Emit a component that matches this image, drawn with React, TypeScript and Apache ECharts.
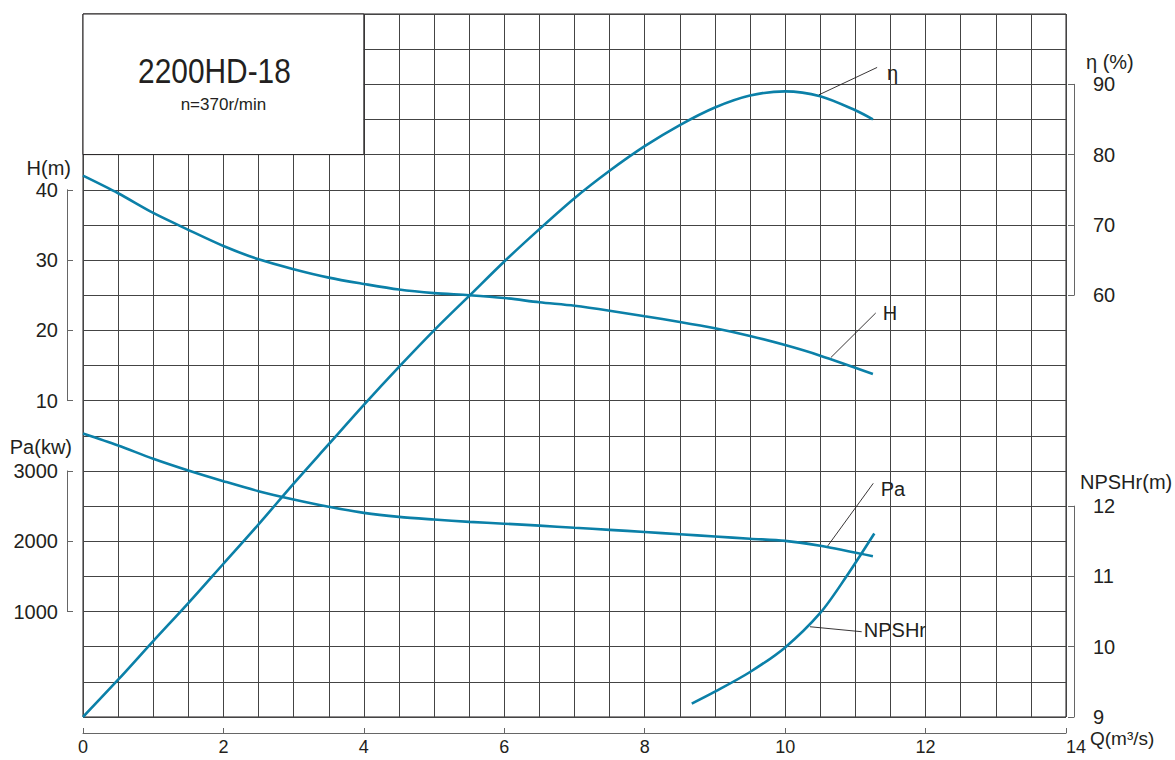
import React, { useEffect, useRef } from "react";
import * as echarts from "echarts";

// ---- data ----
const Q_H = [0, 0.5, 1, 1.5, 2, 2.5, 3, 3.5, 4, 4.5, 5, 5.5, 6, 6.5, 7, 7.5, 8, 8.5, 9, 9.5, 10, 10.5, 11.25];
const H_VALUES = [42.0, 39.5, 36.7, 34.3, 32.0, 30.1, 28.7, 27.5, 26.6, 25.8, 25.3, 25.0, 24.6, 24.0, 23.5, 22.8, 22.0, 21.2, 20.3, 19.2, 17.9, 16.4, 13.8];

const Q_ETA = [0, 0.5, 1, 1.5, 2, 2.5, 3, 3.5, 4, 4.5, 5, 5.5, 6, 6.5, 7, 7.5, 8, 8.5, 9, 9.5, 10, 10.5, 11, 11.25];
const ETA_VALUES = [0, 5.3, 10.8, 16.2, 21.8, 27.4, 33.2, 38.8, 44.4, 49.8, 55.0, 59.9, 64.8, 69.4, 73.8, 77.7, 81.2, 84.2, 86.7, 88.4, 89.0, 88.3, 86.3, 85.0];

const Q_PA = [0, 0.5, 1, 1.5, 2, 2.5, 3, 3.5, 4, 4.5, 5, 5.5, 6, 6.5, 7, 7.5, 8, 8.5, 9, 9.5, 10, 10.5, 11.25];
const PA_VALUES = [3534, 3363, 3174, 3007, 2855, 2712, 2594, 2490, 2404, 2347, 2309, 2276, 2250, 2222, 2192, 2162, 2132, 2100, 2068, 2035, 2005, 1935, 1786];

const Q_NPSH = [8.67, 9.0, 9.5, 10.0, 10.5, 10.86, 11.27];
const NPSH_VALUES = [9.19, 9.36, 9.64, 9.99, 10.48, 10.98, 11.61];

// axis ranges
const Q_RANGE = [0, 14];
const H_RANGE = [-35, 65];
const PA_RANGE = [-500, 9500];
const ETA_RANGE = [0, 100];
const NPSH_RANGE = [9, 19];
const H_TICKS = [10, 40];
const PA_TICKS = [1000, 3000];
const ETA_TICKS = [60, 90];
const NPSH_TICKS = [9, 12];

const TITLE = "2200HD-18";
const SUBTITLE = "n=370r/min";

// layout
const LEFT = 83;
const TOP = 14;
const WIDTH = 983;
const HEIGHT = 703;
const CURVE = "#0b80a8";
const INK = "#231f20";
const FONT = "'Liberation Sans', Arial, Helvetica, sans-serif";

const yPix = (range: number[], v: number) =>
  TOP + ((range[1] - v) / (range[1] - range[0])) * HEIGHT;

const zip = (a: number[], b: number[]) => a.map((x, i) => [x, b[i]]);

function subGrid(range: number[], ticks: number[], side: "left" | "right") {
  const top = yPix(range, ticks[1]);
  const bottom = yPix(range, ticks[0]);
  return side === "left"
    ? { left: 67, width: 10, top, height: bottom - top }
    : { left: 1074, width: 10, top, height: bottom - top };
}

function sideAxis(gridIndex: number, ticks: number[], step: number, side: "left" | "right") {
  return {
    type: "value",
    gridIndex,
    position: side,
    min: ticks[0],
    max: ticks[1],
    interval: step,
    axisLine: { show: true, lineStyle: { color: "#666", width: 1 } },
    axisTick: { show: true, inside: true, length: 6, lineStyle: { color: "#666" } },
    axisLabel: {
      show: true,
      margin: 9,
      fontSize: 20,
      color: INK,
      fontFamily: FONT,
      formatter: (v: number) => String(v),
    },
    splitLine: { show: false },
  };
}

export default function App() {
  const ref = useRef<HTMLDivElement>(null);

  useEffect(() => {
    if (!ref.current) return;
    const chart = echarts.init(ref.current, undefined, { renderer: "svg" });

    const hidden = (gridIndex: number, range: number[]) => ({
      type: "value",
      gridIndex,
      min: range[0],
      max: range[1],
      show: false,
    });

    const option: any = {
      animation: false,
      backgroundColor: "#fff",
      grid: [
        { left: LEFT, top: TOP, width: WIDTH, height: HEIGHT, show: true, borderColor: INK, borderWidth: 1, backgroundColor: "transparent" },
        subGrid(H_RANGE, H_TICKS, "left"),
        subGrid(PA_RANGE, PA_TICKS, "left"),
        subGrid(ETA_RANGE, ETA_TICKS, "right"),
        subGrid(NPSH_RANGE, NPSH_TICKS, "right"),
        { left: LEFT, width: WIDTH, top: 700, height: 33 },
      ],
      xAxis: [
        {
          type: "value",
          gridIndex: 0,
          min: Q_RANGE[0],
          max: Q_RANGE[1],
          interval: 0.5,
          axisLine: { show: false },
          axisTick: { show: false },
          axisLabel: { show: false },
          splitLine: { show: true, lineStyle: { color: "#444", width: 1 } },
        },
        { type: "value", gridIndex: 1, show: false },
        { type: "value", gridIndex: 2, show: false },
        { type: "value", gridIndex: 3, show: false },
        { type: "value", gridIndex: 4, show: false },
        {
          type: "value",
          gridIndex: 5,
          position: "bottom",
          min: Q_RANGE[0],
          max: Q_RANGE[1],
          interval: 2,
          axisLine: { show: true, lineStyle: { color: "#666", width: 1 } },
          axisTick: { show: true, inside: true, length: 5, lineStyle: { color: "#666" } },
          axisLabel: { show: true, margin: 5, fontSize: 18, color: INK, fontFamily: FONT, alignMaxLabel: "left" },
          splitLine: { show: false },
        },
      ],
      yAxis: [
        {
          type: "value",
          gridIndex: 0,
          min: 0,
          max: 20,
          interval: 1,
          axisLine: { show: false },
          axisTick: { show: false },
          axisLabel: { show: false },
          splitLine: { show: true, lineStyle: { color: "#444", width: 1 } },
        },
        hidden(0, H_RANGE),
        hidden(0, PA_RANGE),
        hidden(0, ETA_RANGE),
        hidden(0, NPSH_RANGE),
        sideAxis(1, H_TICKS, 10, "left"),
        sideAxis(2, PA_TICKS, 1000, "left"),
        sideAxis(3, ETA_TICKS, 10, "right"),
        sideAxis(4, NPSH_TICKS, 1, "right"),
        { type: "value", gridIndex: 5, show: false },
      ],
      series: [
        { name: "H", data: zip(Q_H, H_VALUES), yAxisIndex: 1 },
        { name: "Pa", data: zip(Q_PA, PA_VALUES), yAxisIndex: 2 },
        { name: "η", data: zip(Q_ETA, ETA_VALUES), yAxisIndex: 3 },
        { name: "NPSHr", data: zip(Q_NPSH, NPSH_VALUES), yAxisIndex: 4 },
      ].map((s) => ({
        ...s,
        type: "line",
        xAxisIndex: 0,
        smooth: 0.3,
        symbol: "none",
        z: 3,
        lineStyle: { color: CURVE, width: 2.6 },
      })),
    };

    chart.setOption(option);

    const px = (yAxisIndex: number, q: number, v: number) =>
      chart.convertToPixel({ xAxisIndex: 0, yAxisIndex } as any, [q, v]) as number[];

    const boxTL = px(0, 0, 20);
    const boxBR = px(0, 4, 16);

    const annotations = [
      { label: "η", axis: 3, from: [10.48, 88.5], to: [11.31, 92.4], text: [11.45, 91.6] },
      { label: "H", axis: 1, from: [10.653, 16.15], to: [11.29, 22.47], text: [11.39, 22.44] },
      { label: "Pa", axis: 2, from: [10.606, 1933], to: [11.255, 2824], text: [11.36, 2743] },
      { label: "NPSHr", axis: 4, from: [10.354, 10.284], to: [11.09, 10.213], text: [11.12, 10.24] },
    ];

    const graphic: any[] = [
      {
        type: "rect",
        z: 5,
        shape: { x: boxTL[0], y: boxTL[1], width: boxBR[0] - boxTL[0], height: boxBR[1] - boxTL[1] },
        style: { fill: "#fff", stroke: INK, lineWidth: 1 },
      },
      {
        type: "text",
        z: 6,
        x: (boxTL[0] + boxBR[0]) / 2 - 9,
        y: 70,
        scaleX: 0.83,
        style: { text: TITLE, fontSize: 36, fontFamily: FONT, fill: INK, align: "center", textAlign: "center", verticalAlign: "middle", textVerticalAlign: "middle" },
      },
      {
        type: "text",
        z: 6,
        x: (boxTL[0] + boxBR[0]) / 2,
        y: 104,
        style: { text: SUBTITLE, fontSize: 17, fontFamily: FONT, fill: INK, align: "center", textAlign: "center", verticalAlign: "middle", textVerticalAlign: "middle" },
      },
      // axis names
      { type: "text", z: 6, x: 71, y: 168, style: { text: "H(m)", fontSize: 20, fontFamily: FONT, fill: INK, align: "right", textAlign: "right", verticalAlign: "middle", textVerticalAlign: "middle" } },
      { type: "text", z: 6, x: 72, y: 447, style: { text: "Pa(kw)", fontSize: 20, fontFamily: FONT, fill: INK, align: "right", textAlign: "right", verticalAlign: "middle", textVerticalAlign: "middle" } },
      { type: "text", z: 6, x: 1086, y: 62, style: { text: "η (%)", fontSize: 20, fontFamily: FONT, fill: INK, align: "left", textAlign: "left", verticalAlign: "middle", textVerticalAlign: "middle" } },
      { type: "text", z: 6, x: 1080, y: 482, style: { text: "NPSHr(m)", fontSize: 20, fontFamily: FONT, fill: INK, align: "left", textAlign: "left", verticalAlign: "middle", textVerticalAlign: "middle" } },
      { type: "text", z: 6, x: 1090, y: 738, style: { text: "Q(m³/s)", fontSize: 19, fontFamily: FONT, fill: INK, align: "left", textAlign: "left", verticalAlign: "middle", textVerticalAlign: "middle" } },
    ];

    annotations.forEach((a) => {
      const p1 = px(a.axis, a.from[0], a.from[1]);
      const p2 = px(a.axis, a.to[0], a.to[1]);
      const pt = px(a.axis, a.text[0], a.text[1]);
      graphic.push({
        type: "line",
        z: 6,
        shape: { x1: p1[0], y1: p1[1], x2: p2[0], y2: p2[1] },
        style: { stroke: INK, lineWidth: 0.9 },
      });
      graphic.push({
        type: "text",
        z: 6,
        x: pt[0],
        y: pt[1],
        style: { text: a.label, fontSize: 20, fontFamily: FONT, fill: INK, align: "left", textAlign: "left", verticalAlign: "middle", textVerticalAlign: "middle" },
      });
    });

    chart.setOption({ graphic });

    return () => chart.dispose();
  }, []);

  return (
    <div
      ref={ref}
      style={{ position: "fixed", left: 0, top: 0, width: 1175, height: 760, background: "#fff" }}
    />
  );
}
